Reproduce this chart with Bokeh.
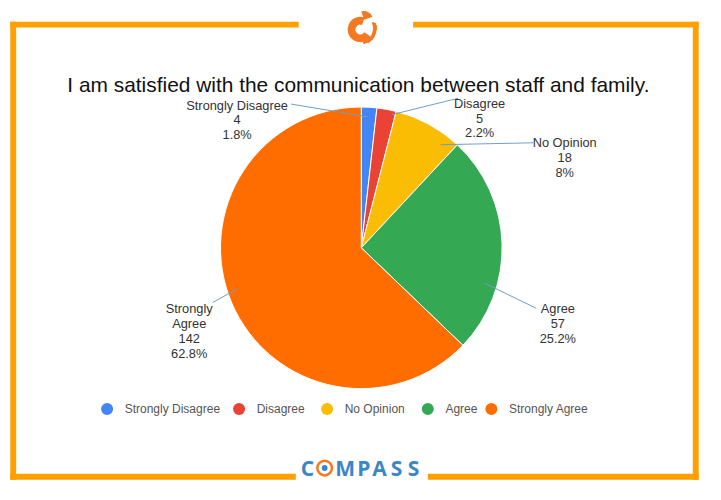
import math
from bokeh.plotting import figure
from bokeh.models import ColumnDataSource, Range1d
from bokeh.core.properties import value
from bokeh.embed import file_html
from bokeh.resources import INLINE

# ---- data ----
categories = ["Strongly Disagree", "Disagree", "No Opinion", "Agree", "Strongly Agree"]
counts = [4, 5, 18, 57, 142]
percent_labels = ["1.8%", "2.2%", "8%", "25.2%", "62.8%"]
colors = ["#4285F4", "#EA4335", "#FBBC04", "#34A853", "#FF6D01"]
title_text = "I am satisfied with the communication between staff and family."

W, H = 705, 484
FONT = "Liberation Sans"


def Y(ry):
    # reference pixel row -> data y
    return 500 - ry


p = figure(width=W, height=H, output_backend="svg", toolbar_location=None,
           x_axis_type=None, y_axis_type=None, min_border=0,
           x_range=Range1d(0, 721), y_range=Range1d(0, 500))
p.grid.visible = False
p.outline_line_color = None
p.background_fill_color = "white"

# ---- frame ----
frame_col = "#FFA000"
p.quad(left=[10, 422, 10, 708, 10, 437],
       right=[305, 714, 16, 714, 302, 714],
       top=[Y(22), Y(22), Y(22), Y(22), Y(489), Y(489)],
       bottom=[Y(28), Y(28), Y(495), Y(495), Y(495), Y(495)],
       color=frame_col, line_color=None)

# ---- top logo (swirl) ----
lx, ly = 368, Y(30)
logo_col = "#F47920"
p.annular_wedge(x=[lx], y=[ly], inner_radius=5, outer_radius=13,
                start_angle=math.radians(70), end_angle=math.radians(-35),
                color=logo_col, line_color=None)
p.annular_wedge(x=[lx - 1, lx - 3, lx - 5], y=[ly + 1, ly + 2, ly + 3],
                inner_radius=[14, 17.5, 20.5], outer_radius=[16.5, 19.5, 22],
                start_angle=[math.radians(a) for a in (-75, -55, -40)],
                end_angle=[math.radians(a) for a in (25, 15, 5)],
                color=logo_col, line_color=None)
p.wedge(x=[lx + 4], y=[ly + 10], radius=[9],
        start_angle=[math.radians(20)], end_angle=[math.radians(110)],
        color=logo_col, line_color=None)

# ---- title ----
p.text(x=[366], y=[Y(87)], text=[title_text], text_font=value(FONT),
       text_font_size="20.9px", text_color="#111111",
       text_align="center", text_baseline="middle")

# ---- pie ----
cx, cy, r = 369, Y(255.5), 144
total = sum(counts)
starts, ends = [], []
cum = 0
for c in counts:
    a0 = math.pi / 2 - 2 * math.pi * cum / total
    cum += c
    a1 = math.pi / 2 - 2 * math.pi * cum / total
    starts.append(a1)
    ends.append(a0)
src = ColumnDataSource(dict(cat=categories, count=counts, color=colors,
                            start=starts, end=ends))
p.wedge(x=cx, y=cy, radius=r, start_angle="start", end_angle="end",
        color="color", line_color="white", line_width=1, source=src)

# ---- slice labels with leader lines (layout positions in ref pixels) ----
label_pos = [(242, 108), (490, 106), (577, 147), (570, 318), (193, 318)]
label_lines_text = [
    ["Strongly Disagree"],
    ["Disagree"],
    ["No Opinion"],
    ["Agree"],
    ["Strongly", "Agree"],
]
leaders = [((297, 107), (375, 120)),
           ((468, 101), (400, 118)),
           ((545, 147), (450, 149)),
           ((548, 318), (495, 292)),
           ((217, 312), (242, 298))]

lead_col = "#6f9fc8"
p.segment(x0=[a[0] for a, b in leaders], y0=[Y(a[1]) for a, b in leaders],
          x1=[b[0] for a, b in leaders], y1=[Y(b[1]) for a, b in leaders],
          line_color=lead_col, line_width=1)

tx, ty, tt = [], [], []
for i in range(len(categories)):
    lines = label_lines_text[i] + [str(counts[i]), percent_labels[i]]
    x0, y0 = label_pos[i]
    for j, s in enumerate(lines):
        tx.append(x0)
        ty.append(Y(y0 + 15.4 * j))
        tt.append(s)
p.text(x=tx, y=ty, text=tt, text_font=value(FONT), text_font_size="12.8px",
       text_color="#333333", text_align="center", text_baseline="middle")

# ---- legend ----
leg_x = [109, 244, 334, 437, 502]
leg_y = Y(422)
p.scatter(x=leg_x, y=[leg_y] * 5, size=12, marker="circle",
          color=colors, line_color=None)
p.text(x=[v + 18 for v in leg_x], y=[leg_y] * 5, text=categories,
       text_font=value(FONT), text_font_size="12px", text_color="#555555",
       text_align="left", text_baseline="middle")

# ---- bottom COMPASS logo ----
blue = "#3A86C8"
letters = ["C", "M", "P", "A", "S", "S"]
letter_x = [314, 352.5, 371.5, 387.5, 405, 422.5]
p.text(x=letter_x, y=[Y(483)] * 6, text=letters, text_font=value("Open Sans"),
       text_font_size="21px", text_font_style="bold", text_color=blue,
       text_align="center", text_baseline="middle")
p.circle(x=[331.5], y=[Y(483)], radius=7.5, fill_color=None,
         line_color="#F47920", line_width=2.5)
p.circle(x=[331.5], y=[Y(483)], radius=3, fill_color=blue, line_color=None)

open("out.html", "w").write(file_html(p, INLINE))
